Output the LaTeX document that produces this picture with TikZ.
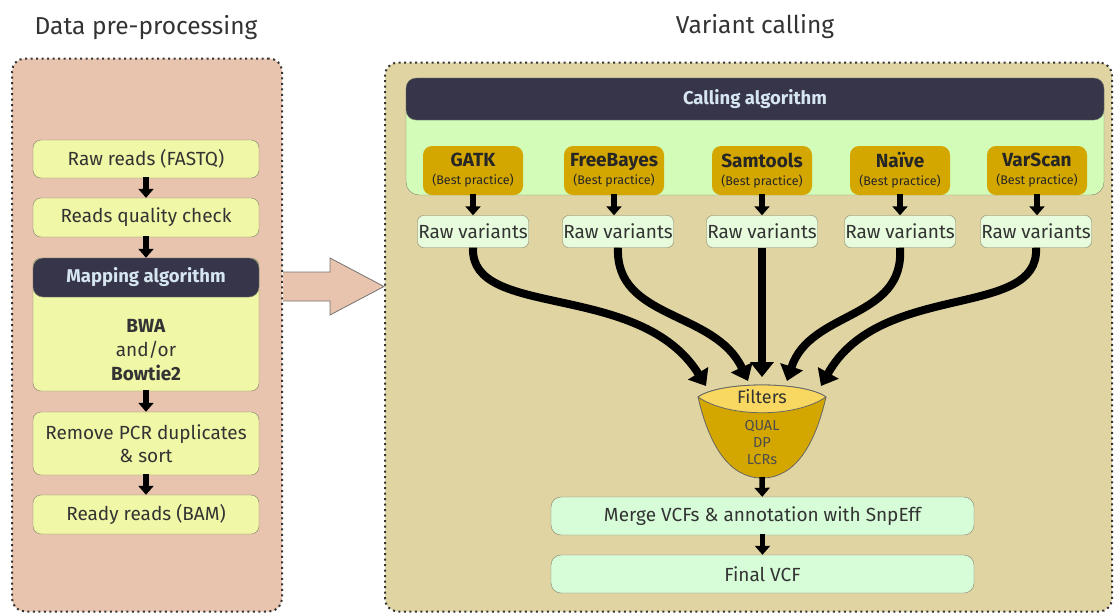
\documentclass[tikz,border=0pt]{standalone}
\usepackage{fontspec}
\setmainfont{Fira Sans}
\usetikzlibrary{arrows.meta}

\definecolor{prefill}{HTML}{E8C4AE}
\definecolor{varfill}{HTML}{E0D4A2}
\definecolor{yelbox}{HTML}{F0F7A6}
\definecolor{darkhead}{HTML}{37354A}
\definecolor{headtxt}{HTML}{D6E6F0}
\definecolor{callfill}{HTML}{D2FCB8}
\definecolor{toolfill}{HTML}{D4A700}
\definecolor{rawfill}{HTML}{E6FCDC}
\definecolor{vcffill}{HTML}{D6FCD8}
\definecolor{filttop}{HTML}{F8D860}
\definecolor{txtgray}{HTML}{333333}
\definecolor{edgegray}{HTML}{80806A}

\newcommand{\bestp}{\\[-4pt]{\fontsize{12.5}{13}\selectfont\mdseries (Best practice)}}

\begin{document}
\begin{tikzpicture}[x=1pt, y=-1pt,
    every node/.append style={font=\fontsize{19}{22}\selectfont, text=txtgray, inner sep=0pt},
    panel/.style={draw=black!80, dash pattern=on 2pt off 3.5pt, line width=2pt, rounded corners=13pt},
    title/.style={font=\fontsize{24.5}{28}\selectfont},
    prebox/.style={draw=edgegray, fill=yelbox, rounded corners=8pt, minimum width=226, align=center},
    headbox/.style={draw=edgegray, fill=darkhead, rounded corners=10pt, text=headtxt, font=\fontsize{18.5}{22}\selectfont\bfseries},
    toolbox/.style={fill=toolfill, rounded corners=9pt, minimum width=100, minimum height=49, align=center, text=black!85, font=\fontsize{19}{22}\selectfont\bfseries},
    rawbox/.style={draw=edgegray, fill=rawfill, rounded corners=6pt, minimum width=111, minimum height=32},
    vcfbox/.style={draw=edgegray, fill=vcffill, rounded corners=10pt, minimum width=423, minimum height=38},
    arr/.style={-{Triangle[length=9pt,width=15pt]}, line width=5.5pt, shorten <=-1pt},
    bigarr/.style={-{Triangle[length=15pt,width=23pt]}, line width=8pt}]

    \useasboundingbox (0,0) rectangle (1115,614);

    \node [title] (pretitle) at (146,28) {Data pre-processing};
    \node [title] (vartitle) at (755,27) {Variant calling};

    \node [panel, fill=prefill, minimum width=270, minimum height=553] (pre) at (147,335) {};
    \node [panel, fill=varfill, minimum width=727, minimum height=549] (var) at (748.5,337) {};

    % transfer arrow
    \draw [draw=black!55, fill=prefill, line width=0.8pt]
        (283,272) -- (330,272) -- (330,258) -- (384,286.5) -- (330,315) -- (330,301) -- (283,301);

    % data pre-processing
    \node [prebox, minimum height=38] (rawreads) at (146,159) {Raw reads (FASTQ)};
    \node [prebox, minimum height=39] (qcheck) at (146,217.5) {Reads quality check};
    \node [prebox, minimum height=133] (mapbody) at (146,324.5) {};
    \node [headbox, minimum width=226, minimum height=39] (maphead) at (146,277.5) {Mapping algorithm};
    \node [align=center, font=\fontsize{19}{24}\selectfont] (mappers) at (146,350) {\textbf{BWA}\\and/or\\\textbf{Bowtie2}};
    \node [prebox, minimum height=63] (rmdup) at (146,443.5) {Remove PCR duplicates\\[1pt]\& sort};
    \node [prebox, minimum height=39] (ready) at (146,514.5) {Ready reads (BAM)};

    \draw [arr] (rawreads) -- (qcheck);
    \draw [arr] (qcheck) -- (maphead);
    \draw [arr] (mapbody) -- (rmdup);
    \draw [arr] (rmdup) -- (ready);

    % variant calling
    \node [draw=edgegray, fill=callfill, rounded corners=13pt, minimum width=698, minimum height=117] (callbody) at (755,136.5) {};
    \node [headbox, minimum width=698, minimum height=42] (callhead) at (755,99) {Calling algorithm};

    \node [toolbox] (gatk) at (473,170.5) {GATK\bestp};
    \node [toolbox] (freebayes) at (614,170.5) {FreeBayes\bestp};
    \node [toolbox] (samtools) at (762,170.5) {Samtools\bestp};
    \node [toolbox] (naive) at (900,170.5) {Naïve\bestp};
    \node [toolbox] (varscan) at (1037,170.5) {VarScan\bestp};

    \node [rawbox] (rawgatk) at (473,231.5) {Raw variants};
    \node [rawbox] (rawfree) at (618,231.5) {Raw variants};
    \node [rawbox] (rawsam) at (762,231.5) {Raw variants};
    \node [rawbox] (rawnaive) at (900,231.5) {Raw variants};
    \node [rawbox] (rawvar) at (1036,231.5) {Raw variants};

    \draw [arr] (gatk) -- (rawgatk);
    \draw [arr] (freebayes) -- (freebayes |- rawfree.north);
    \draw [arr] (samtools) -- (rawsam);
    \draw [arr] (naive) -- (rawnaive);
    \draw [arr] (varscan) -- (varscan |- rawvar.north);

    % filter funnel
    \draw [draw=black!60, fill=toolfill, line width=0.8pt]
        (698,397) .. controls (720,381) and (804,381) .. (826,397)
        .. controls (815,445) and (795,478) .. (762,478)
        .. controls (729,478) and (709,445) .. (698,397) -- cycle;
    \draw [draw=black!60, fill=filttop, line width=0.8pt]
        (698,397) .. controls (720,381) and (804,381) .. (826,397)
        .. controls (795,418) and (729,418) .. (698,397) -- cycle;
    \node [font=\fontsize{18}{20}\selectfont] (filters) at (762,397) {Filters};
    \node [align=center, font=\fontsize{14.5}{17}\selectfont, text=black!70] (crit) at (762,442) {QUAL\\DP\\LCRs};

    \coordinate (in1) at (706,386);
    \coordinate (in2) at (748,381);
    \coordinate (in3) at (762,377);
    \coordinate (in4) at (787,381);
    \coordinate (in5) at (821,386);
    \coordinate (fout) at (762,478);

    \draw [bigarr] (rawgatk.south) .. controls (470,320) and (640,280) .. (in1);
    \draw [bigarr] (rawfree.south) .. controls (615,320) and (715,310) .. (in2);
    \draw [bigarr] (rawsam.south) -- (in3);
    \draw [bigarr] (rawnaive.south) .. controls (905,320) and (810,310) .. (in4);
    \draw [bigarr] (rawvar.south) .. controls (1040,320) and (880,280) .. (in5);

    \node [vcfbox] (merge) at (762.5,516) {Merge VCFs \& annotation with SnpEff};
    \node [vcfbox] (final) at (762.5,574) {Final VCF};

    \draw [arr] (fout) -- (merge);
    \draw [arr] (merge) -- (final);
\end{tikzpicture}
\end{document}
